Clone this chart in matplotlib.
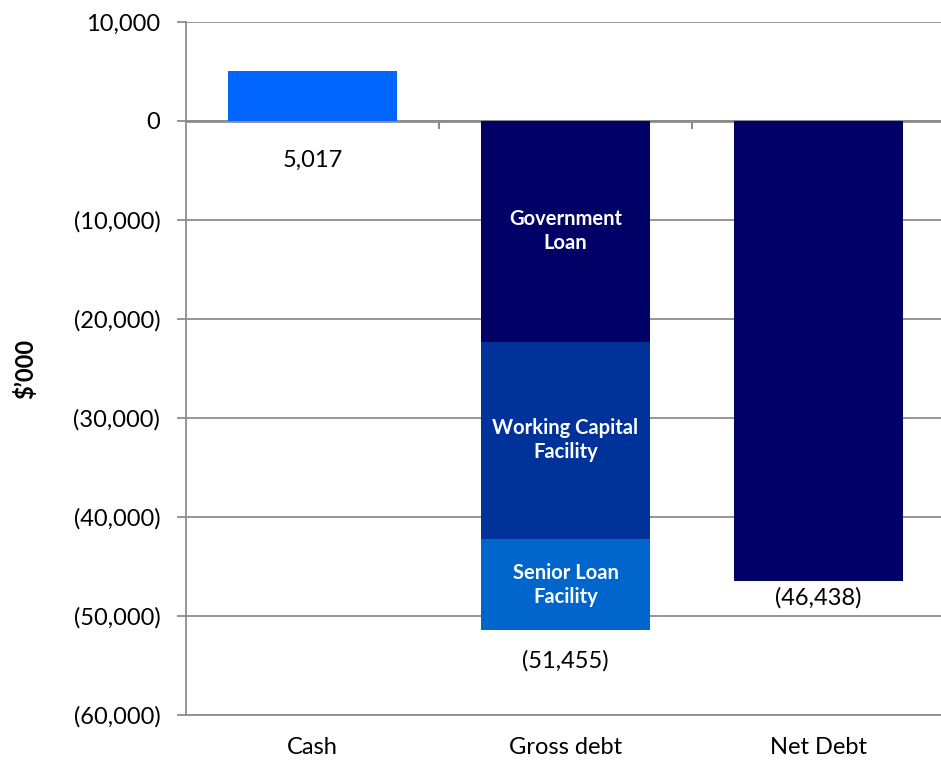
import matplotlib.pyplot as plt
from matplotlib.ticker import FuncFormatter

plt.rcParams["font.family"] = ["Lato", "DejaVu Sans"]

categories = ["Cash", "Gross debt", "Net Debt"]
cash = 5017
debt_parts = ["Government\nLoan", "Working Capital\nFacility", "Senior Loan\nFacility"]
debt_values = [-22300, -19930, -9225]
gross_debt = -51455
net_debt = -46438

debt_colors = ["#000066", "#003399", "#0066CC"]
grid_color = "#8c8c8c"


def paren_fmt(v, _pos):
    if v < 0:
        return f"({abs(v):,.0f})"
    return f"{v:,.0f}"


fig = plt.figure(figsize=(9.41, 7.6), dpi=100)
ax = fig.add_axes([0.1977, 0.0592, 0.8066, 0.9119])

width = 0.67
ax.bar(0, cash, width, color="#0066FF", zorder=3)

bottom = 0
for label, val, col in zip(debt_parts, debt_values, debt_colors):
    ax.bar(1, val, width, bottom=bottom, color=col, zorder=3)
    ax.text(1, bottom + val / 2, label, ha="center", va="center",
            color="white", fontsize=14.5, fontweight="bold", zorder=4,
            linespacing=1.25)
    bottom += val

ax.bar(2, net_debt, width, color="#000066", zorder=3)

# value labels
ax.annotate(f"{cash:,}", (0, 0), xytext=(0, -28), textcoords="offset points",
            ha="center", va="center", fontsize=17)
ax.annotate(paren_fmt(gross_debt, None), (1, gross_debt), xytext=(0, -22),
            textcoords="offset points", ha="center", va="center", fontsize=17)
ax.annotate(paren_fmt(net_debt, None), (2, net_debt), xytext=(0, -12),
            textcoords="offset points", ha="center", va="center", fontsize=17)

ax.set_xlim(-0.5, 2.5)
ax.set_ylim(-60000, 10000)
ax.set_yticks(range(-60000, 10001, 10000))
ax.yaxis.set_major_formatter(FuncFormatter(paren_fmt))
ax.grid(axis="y", color=grid_color, linewidth=1.3, zorder=0)

# category axis line crosses at zero with boundary tick marks
ax.axhline(0, color=grid_color, linewidth=2, zorder=2)
ax.vlines([0.5, 1.5], -850, 0, color=grid_color, linewidth=1.5, zorder=2)

ax.set_xticks(range(len(categories)))
ax.set_xticklabels(categories)
ax.tick_params(axis="x", length=0, pad=16, labelsize=17)
ax.tick_params(axis="y", length=6.5, width=1.3, color=grid_color, pad=12,
               labelsize=17)

for side in ["top", "right"]:
    ax.spines[side].set_visible(False)
for side in ["left", "bottom"]:
    ax.spines[side].set_color(grid_color)
    ax.spines[side].set_linewidth(1.3)

ax.set_ylabel("$\u2019000", fontsize=17, fontweight="bold", labelpad=26)

fig.savefig("out.png", dpi=100)
